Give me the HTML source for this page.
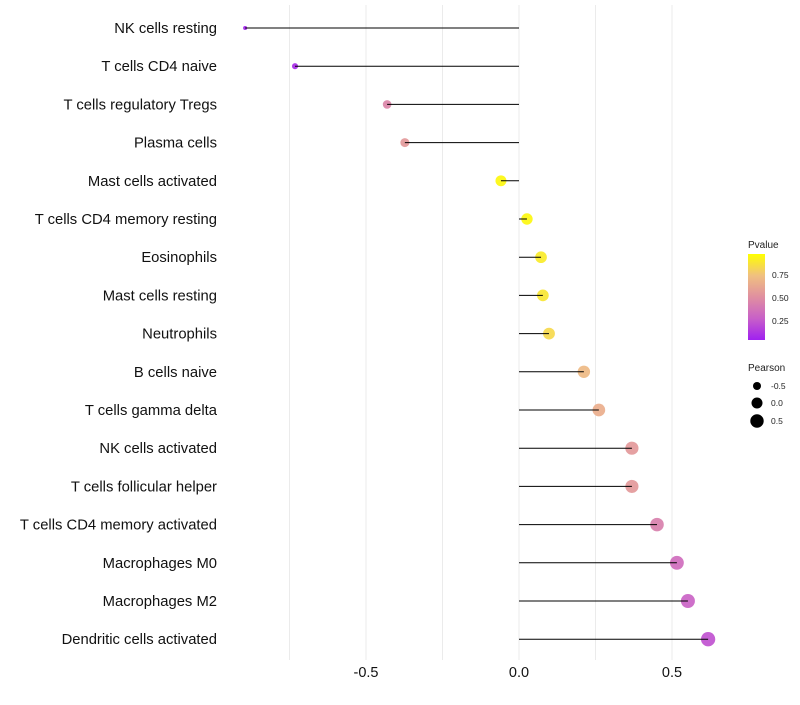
<!DOCTYPE html>
<html><head><meta charset="utf-8"><style>
body{margin:0;background:#fff;font-family:"Liberation Sans",sans-serif}
</style></head><body>
<svg id="c" width="800" height="700" xmlns="http://www.w3.org/2000/svg">
<defs><linearGradient id="pg" x1="0" y1="1" x2="0" y2="0">
<stop offset="0" stop-color="#a020f0"/><stop offset="0.25" stop-color="#c860c8"/><stop offset="0.5" stop-color="#e08fa0"/><stop offset="0.75" stop-color="#f0c080"/><stop offset="1" stop-color="#ffff00"/></linearGradient></defs>
<g id="grid"></g><g id="dots"></g><g id="stems"></g><g id="labels"></g>
<g font-size="10" fill="#222">
<text x="748" y="248">Pvalue</text>
<rect x="748" y="254" width="17" height="86" fill="url(#pg)"/>
<text x="772" y="278" font-size="8.5">0.75</text><text x="772" y="301" font-size="8.5">0.50</text><text x="772" y="324" font-size="8.5">0.25</text>
<text x="748" y="371">Pearson</text>
<circle cx="757" cy="386" r="4" fill="#000"/><circle cx="757" cy="403" r="5.5" fill="#000"/><circle cx="757" cy="421" r="6.7" fill="#000"/>
<text x="771" y="389" font-size="8.5">-0.5</text><text x="771" y="406" font-size="8.5">0.0</text><text x="771" y="424" font-size="8.5">0.5</text>
</g>
</svg>
<script>
const categories=["NK cells resting","T cells CD4 naive","T cells regulatory  Tregs ","Plasma cells","Mast cells activated","T cells CD4 memory resting","Eosinophils","Mast cells resting","Neutrophils","B cells naive","T cells gamma delta","NK cells activated","T cells follicular helper","T cells CD4 memory activated","Macrophages M0","Macrophages M2","Dendritic cells activated"];
const pearson=[-0.895,-0.732,-0.431,-0.373,-0.059,0.026,0.072,0.078,0.098,0.212,0.261,0.369,0.369,0.451,0.516,0.552,0.618];
const pvalues=[0.02,0.05,0.45,0.55,0.97,0.97,0.92,0.9,0.85,0.72,0.66,0.55,0.55,0.42,0.32,0.27,0.2];
const xTicks=[-0.5,0,0.5];
const xTickLabels=["-0.5","0.0","0.5"];
const gridVals=[-0.75,-0.5,-0.25,0,0.25,0.5];
const NS="http://www.w3.org/2000/svg";
const xs=v=>519+v*306;
const ys=i=>28+i*38.2;
const rs=v=>Math.sqrt(Math.max(1.5,4+31*(v+0.9)));
const stops=[[0,[160,32,240]],[0.25,[200,96,200]],[0.5,[224,143,160]],[0.75,[240,192,128]],[1,[255,255,0]]];
function col(p){for(let k=1;k<stops.length;k++){if(p<=stops[k][0]){const a=stops[k-1],b=stops[k],t=(p-a[0])/(b[0]-a[0]);return"rgb("+a[1].map((c,j)=>Math.round(c+(b[1][j]-c)*t)).join(",")+")";}}return"rgb(255,255,0)";}
function mk(t,at,parent){const e=document.createElementNS(NS,t);for(const k in at)e.setAttribute(k,at[k]);document.getElementById(parent).appendChild(e);return e;}
gridVals.forEach(v=>{const l=mk("line",{x1:xs(v),x2:xs(v),y1:5,y2:660,stroke:"#ebebeb","stroke-width":1},"grid");

});
xTicks.forEach((v,i)=>{const t=mk("text",{x:xs(v),y:677,"text-anchor":"middle","font-size":14.5,fill:"#111"},"labels");t.textContent=xTickLabels[i];

});
categories.forEach((c,i)=>{const y=ys(i);
const t=mk("text",{x:217,y:y+5,"text-anchor":"end","font-size":14.8,fill:"#111","xml:space":"preserve"},"labels");t.textContent=c;


const d=mk("circle",{cx:xs(pearson[i]),cy:y,r:rs(pearson[i]),fill:col(pvalues[i]),"fill-opacity":0.92},"dots");


const l=mk("line",{x1:xs(0),x2:xs(pearson[i]),y1:y,y2:y,stroke:"#000","stroke-width":1},"stems");

});
</script>
</body></html>
